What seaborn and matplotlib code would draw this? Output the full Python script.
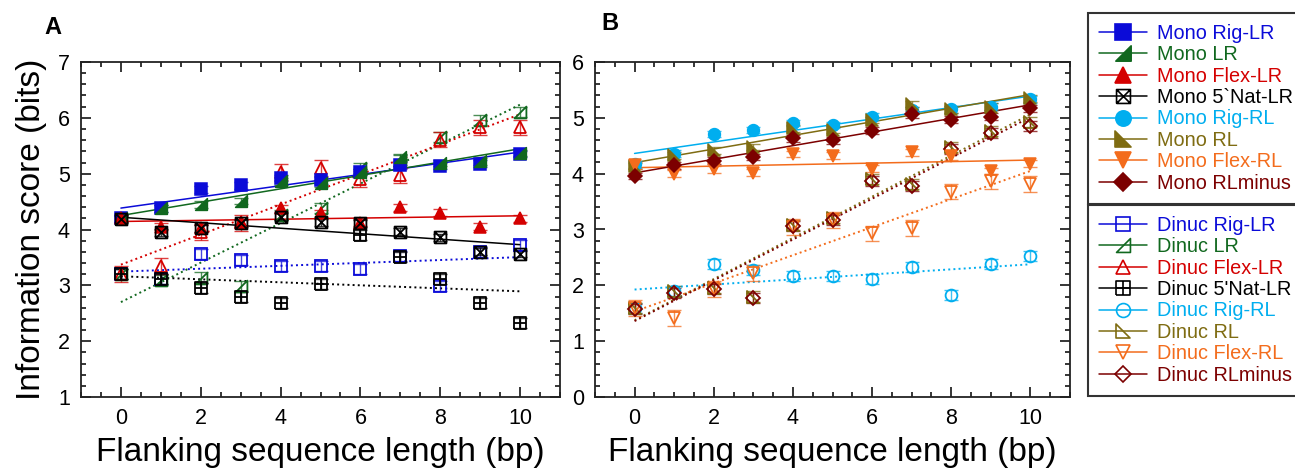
import numpy as np
import matplotlib
matplotlib.use("Agg")
import matplotlib.pyplot as plt
from matplotlib.path import Path
from matplotlib.lines import Line2D
from matplotlib.ticker import MultipleLocator
import seaborn as sns

# flanking length (bp)
x = np.arange(11)

# panel A: LR models
mono_rig_lr = [4.20, 4.38, 4.72, 4.79, 4.92, 4.88, 5.03, 5.15, 5.14, 5.18, 5.35]
mono_lr = [4.20, 4.38, 4.45, 4.51, 4.86, 4.83, 5.03, 5.29, 5.19, 5.22, 5.37]
mono_flex_lr = [4.20, 4.05, 4.02, 4.13, 4.38, 4.29, 4.12, 4.40, 4.30, 4.05, 4.20]
mono_nat_lr = [4.18, 3.95, 4.02, 4.11, 4.23, 4.13, 4.11, 3.96, 3.86, 3.60, 3.56]
dinuc_rig_lr = [3.20, 3.12, 3.56, 3.45, 3.35, 3.34, 3.29, 3.52, 2.99, 3.59, 3.72]
dinuc_lr = [3.20, 3.10, 3.14, 2.99, 4.26, 4.38, 5.10, 5.25, 5.66, 5.96, 6.11]
dinuc_flex_lr = [3.20, 3.35, 3.95, 4.12, 5.03, 5.10, 4.90, 4.97, 5.61, 5.83, 5.83]
dinuc_nat_lr = [3.20, 3.11, 2.96, 2.79, 2.69, 3.02, 3.90, 3.50, 3.12, 2.68, 2.33]

# panel B: RL models
mono_rig_rl = [4.17, 4.36, 4.71, 4.78, 4.91, 4.87, 5.02, 5.14, 5.15, 5.20, 5.33]
mono_rl = [4.14, 4.33, 4.42, 4.48, 4.81, 4.79, 4.96, 5.25, 5.15, 5.20, 5.35]
mono_flex_rl = [4.15, 4.00, 4.08, 4.02, 4.35, 4.32, 4.09, 4.38, 4.31, 4.05, 4.18]
mono_rlminus = [3.96, 4.15, 4.23, 4.30, 4.63, 4.60, 4.77, 5.06, 4.97, 5.02, 5.17]
dinuc_rig_rl = [1.60, 1.90, 2.38, 2.27, 2.17, 2.17, 2.11, 2.32, 1.82, 2.39, 2.53]
dinuc_rl = [1.60, 1.89, 1.95, 1.80, 3.08, 3.20, 3.90, 3.82, 4.48, 4.76, 4.93]
dinuc_flex_rl = [1.59, 1.41, 1.94, 2.22, 3.05, 3.17, 2.93, 3.03, 3.68, 3.86, 3.82]
dinuc_rlminus = [1.57, 1.87, 1.93, 1.78, 3.06, 3.17, 3.87, 3.78, 4.44, 4.72, 4.86]

# error bar half-widths (one per series)
err_mono = 0.06
err_dinuc = 0.09
err_dinuc_flex = 0.14

# custom markers
tri_lr = Path([(1, -1), (1, 1), (-1, -1), (1, -1)], closed=True)
tri_rl = Path([(-1, 1), (-1, -1), (1, -1), (-1, 1)], closed=True)
M, L = Path.MOVETO, Path.LINETO
box_x = Path([(-1, -1), (1, -1), (1, 1), (-1, 1), (-1, -1), (-1, -1), (1, 1), (-1, 1), (1, -1)],
             [M, L, L, L, L, M, L, M, L])
box_plus = Path([(-1, -1), (1, -1), (1, 1), (-1, 1), (-1, -1), (0, -1), (0, 1), (-1, 0), (1, 0)],
                [M, L, L, L, L, M, L, M, L])

blue = "#0b0bd8"
green = "#11681f"
red = "#d40000"
black = "#000000"
cyan = "#00aeef"
olive = "#7f6c12"
orange = "#f36c1c"
darkred = "#7c0000"

# (label, values, color, marker, filled, err)
panel_a = [
    ("Dinuc Rig-LR", dinuc_rig_lr, blue, "s", False, err_dinuc),
    ("Dinuc LR", dinuc_lr, green, tri_lr, False, err_dinuc),
    ("Dinuc Flex-LR", dinuc_flex_lr, red, "^", False, err_dinuc_flex),
    ("Dinuc 5'Nat-LR", dinuc_nat_lr, black, box_plus, False, err_dinuc),
    ("Mono Rig-LR", mono_rig_lr, blue, "s", True, err_mono),
    ("Mono LR", mono_lr, green, tri_lr, True, err_mono),
    ("Mono Flex-LR", mono_flex_lr, red, "^", True, err_mono),
    ("Mono 5`Nat-LR", mono_nat_lr, black, box_x, False, err_mono),
]
panel_b = [
    ("Dinuc Rig-RL", dinuc_rig_rl, cyan, "o", False, err_dinuc),
    ("Dinuc RL", dinuc_rl, olive, tri_rl, False, err_dinuc),
    ("Dinuc Flex-RL", dinuc_flex_rl, orange, "v", False, err_dinuc_flex),
    ("Dinuc RLminus", dinuc_rlminus, darkred, "D", False, err_dinuc),
    ("Mono Rig-RL", mono_rig_rl, cyan, "o", True, err_mono),
    ("Mono RL", mono_rl, olive, tri_rl, True, err_mono),
    ("Mono Flex-RL", mono_flex_rl, orange, "v", True, err_mono),
    ("Mono RLminus", mono_rlminus, darkred, "D", True, err_mono),
]

sns.set_theme(style="ticks")
plt.rcParams['font.family'] = ['Liberation Sans', 'DejaVu Sans']
plt.rcParams['text.color'] = 'black'
plt.rcParams['axes.labelcolor'] = 'black'
plt.rcParams['xtick.color'] = 'black'
plt.rcParams['ytick.color'] = 'black'

fig = plt.figure(figsize=(12.95, 4.69), dpi=100)
W, H = 1295, 469
axA = fig.add_axes([81 / W, 1 - 397 / H, (560 - 81) / W, (397 - 62) / H])
axB = fig.add_axes([595 / W, 1 - 397 / H, (1070 - 595) / W, (397 - 62) / H])


def marker_size(m):
    if m == "D":
        return 7.5
    return 8.5


def draw(ax, series):
    for label, vals, c, m, filled, err in series:
        ls = "-" if label.startswith("Mono") else ":"
        lw = 1.1 if ls == "-" else 1.4
        sns.regplot(x=x, y=np.array(vals), ax=ax, scatter=False, ci=None,
                    truncate=True, color=c, line_kws=dict(lw=lw, ls=ls, zorder=2))
        ax.errorbar(x, vals, yerr=err, fmt="none", ecolor=c, elinewidth=1.0,
                    capsize=5, capthick=1.0, alpha=0.75, zorder=3)
        ax.plot(x, vals, ls="none", marker=m, ms=marker_size(m),
                mfc=c if filled else "none", mec=c, mew=1.1 if filled else 1.3,
                zorder=4)


draw(axA, panel_a)
draw(axB, panel_b)

for ax, (lo, hi) in ((axA, (1, 7)), (axB, (0, 6))):
    ax.set_xlim(-1, 11)
    ax.set_ylim(lo, hi)
    ax.xaxis.set_major_locator(MultipleLocator(2))
    ax.xaxis.set_minor_locator(MultipleLocator(0.5))
    ax.yaxis.set_major_locator(MultipleLocator(1))
    ax.yaxis.set_minor_locator(MultipleLocator(0.2))
    ax.tick_params(which="both", direction="in", top=True, right=True,
                   color="black", width=1.1)
    ax.tick_params(which="major", length=7, labelsize=15.5, pad=8, labelcolor="black")
    ax.tick_params(which="minor", length=3.5)
    for s in ax.spines.values():
        s.set_visible(True)
        s.set_color("#222222")
        s.set_linewidth(1.3)
    ax.set_xlabel("Flanking sequence length (bp)", fontsize=24, labelpad=6, color="black")
    ax.set_facecolor("white")

axA.set_ylabel("Information score (bits)", fontsize=24, labelpad=8, color="black")
fig.text(53 / W, 1 - 28 / H, "A", fontsize=17, fontweight="bold", ha="center", va="center")
fig.text(610 / W, 1 - 24 / H, "B", fontsize=17, fontweight="bold", ha="center", va="center")


def handles(series):
    out = []
    for label, vals, c, m, filled, err in series:
        ms = 11 if filled else 10
        if m == "D":
            ms -= 1.5
        out.append(Line2D([], [], color=c, lw=1.1, marker=m, ms=ms,
                          mfc=c if filled else "none", mec=c, mew=1.2, label=label))
    return out


mono = [panel_a[4], panel_a[5], panel_a[6], panel_a[7],
        panel_b[4], panel_b[5], panel_b[6], panel_b[7]]
dinuc = [panel_a[0], panel_a[1], panel_a[2], panel_a[3],
         panel_b[0], panel_b[1], panel_b[2], panel_b[3]]

for series, top in ((mono, 13), (dinuc, 205)):
    h = handles(series)
    leg = fig.legend(handles=h, loc="upper left", bbox_to_anchor=(1088 / W, 1 - top / H),
                     fontsize=14.3, frameon=True, fancybox=False, edgecolor="#333333",
                     framealpha=1, handlelength=2.4, handletextpad=0.5,
                     labelspacing=0.12, borderpad=0.55, borderaxespad=0)
    leg.get_frame().set_linewidth(1.5)
    for t, s in zip(leg.get_texts(), series):
        t.set_color(s[2])

fig.savefig("out.png", dpi=100, facecolor="white")
